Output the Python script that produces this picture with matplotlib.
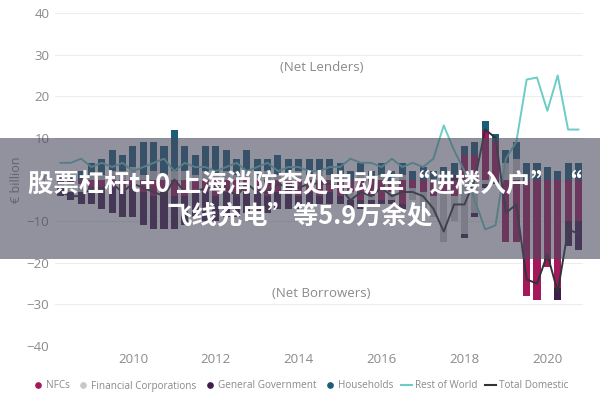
import matplotlib
matplotlib.use("Agg")
import matplotlib.pyplot as plt
import numpy as np
from matplotlib.lines import Line2D
from matplotlib.patches import Rectangle

quarters = ["2008Q2", "2008Q3", "2008Q4",
            "2009Q1", "2009Q2", "2009Q3", "2009Q4",
            "2010Q1", "2010Q2", "2010Q3", "2010Q4",
            "2011Q1", "2011Q2", "2011Q3", "2011Q4",
            "2012Q1", "2012Q2", "2012Q3", "2012Q4",
            "2013Q1", "2013Q2", "2013Q3", "2013Q4",
            "2014Q1", "2014Q2", "2014Q3", "2014Q4",
            "2015Q1", "2015Q2", "2015Q3", "2015Q4",
            "2016Q1", "2016Q2", "2016Q3", "2016Q4",
            "2017Q1", "2017Q2", "2017Q3", "2017Q4",
            "2018Q1", "2018Q2", "2018Q3", "2018Q4",
            "2019Q1", "2019Q2", "2019Q3", "2019Q4",
            "2020Q1", "2020Q2", "2020Q3", "2020Q4"]

nfcs = [-1, -1, -1, -2, -2, -2, -3, -2, -3, -4, -3, -4, -4, -3, -3,
        -4, -3, -4, -3, -3, -4, -3, -3, -4, -3, -4, -3, -4, -3, -5, -4,
        -5, -3, -6, -2, -3, -4, -3, -4, 6, 6, 12, 9,
        -15, -15, -28, -29, -21, -26, -10, -10]
financial = [-1, -2, -2, 1, 1, 2, 2, 3, 1, 2, 1, 2, 2, 1, 2,
             1, 2, 1, 2, 1, 2, 1, 1, 2, 1, 2, 1, 1, -2, 1, -1,
             1, -2, 1, -3, -4, -5, -12, -6, -13, -8, -1, 0,
             4, 5, 0, 0, 0, 0, 0, 0]
government = [-2, -2, -3, -4, -5, -6, -6, -7, -8, -8, -9, -8, -7, -6, -7,
              -6, -6, -5, -5, -5, -4, -4, -4, -3, -3, -2, -3, -2, -2, -2, -1,
              -1, -1, -1, 0, 0, 0, 0, 1, -1, -1, -1, -1,
              0, 0, 0, 0, 0, -3, -6, -7]
households = [1, 1, 2, 3, 4, 5, 4, 5, 8, 7, 7, 10, 6, 5, 6,
              7, 5, 4, 5, 4, 3, 5, 4, 3, 4, 3, 4, 3, 2, 3, 2,
              3, 2, 3, 2, 3, 2, 3, 3, 2, 3, 2, 2,
              3, 4, 4, 4, 3, 2, 4, 4]
rest_of_world = [4, 4, 5, 3, 4, 3, 4, 2, 3, 4, 5, 2, 4, 3, 3,
                 2, 3, 4, 2, 3, 4, 2, 3, 3, 2, 2, 3, 3, 5, 4, 4,
                 3, 5, 3, 4, 3, 5, 13, 7, 2, -5, -12, -11,
                 5, 9, 24, 24.5, 16.5, 25, 12, 12]
total_domestic = [-3, -4, -4, -2, -2, -1, -3, -1, -2, -3, -4, 0, -3, -3, -2,
                  -2, -2, -4, -1, -3, -3, -1, -2, -2, -1, -1, -1, -2, -5, -3, -4,
                  -2, -4, -3, -3, -4, -7, -12.5, -6, -6, 0, 12, 10,
                  -8, -6, -24, -25, -18, -27, -12, -13]

year_ticks = [2010, 2012, 2014, 2016, 2018, 2020]
y_ticks = [-40, -30, -20, -10, 0, 10, 20, 30, 40]

title_line1 = "股票杠杆t+0 上海消防查处电动车“进楼入户”“"
title_line2 = "飞线充电”等5.9万余处"

c_nfc = "#A3195B"
c_fin = "#C8C8C8"
c_gov = "#3F1D4A"
c_hh = "#1C5D78"
c_row = "#6CCDC6"
c_dom = "#2E3438"
grey_txt = "#8A8A8A"
ui_font = ["Open Sans", "DejaVu Sans"]
cjk_font = ["Noto Sans CJK SC", "DejaVu Sans"]

x = np.array([int(q[:4]) + (int(q[-1]) - 1) / 4 for q in quarters])

fig = plt.figure(figsize=(6, 4), dpi=100)
ax = fig.add_axes([55 / 600, 1 - 346 / 400, (583 - 55) / 600, (346 - 13) / 400])

series = [(nfcs, c_nfc), (financial, c_fin), (government, c_gov), (households, c_hh)]
pos_base = np.zeros(len(x))
neg_base = np.zeros(len(x))
w = 0.17
for vals, col in series:
    v = np.array(vals, dtype=float)
    pos = np.where(v > 0, v, 0)
    neg = np.where(v < 0, v, 0)
    ax.bar(x, pos, bottom=pos_base, width=w, color=col, zorder=2, linewidth=0)
    ax.bar(x, neg, bottom=neg_base, width=w, color=col, zorder=2, linewidth=0)
    pos_base += pos
    neg_base += neg

ax.plot(x, rest_of_world, color=c_row, lw=1.4, zorder=3)
ax.plot(x, total_domestic, color=c_dom, lw=1.4, zorder=3)

ax.set_ylim(-40, 40)
ax.set_xlim(2008.12, 2020.86)
ax.set_yticks(y_ticks)
ax.set_xticks(year_ticks)
ax.set_xticklabels([str(y) for y in year_ticks])
ax.grid(axis="y", color="#EDEDED", lw=0.8, zorder=0)
ax.set_axisbelow(True)
for s in ax.spines.values():
    s.set_visible(False)
ax.tick_params(length=0, colors=grey_txt, labelsize=9.5)
ax.tick_params(axis="x", pad=5)
ax.tick_params(axis="y", pad=4)
for lab in ax.get_xticklabels() + ax.get_yticklabels():
    lab.set_family(ui_font)

ax.text(2014.55, 27, "(Net Lenders)", ha="center", va="center", color=grey_txt,
        fontsize=9.5, family=ui_font)
ax.text(2014.55, -27.5, "(Net Borrowers)", ha="center", va="center", color=grey_txt,
        fontsize=9.5, family=ui_font)

fig.text(16 / 600, 1 - 180 / 400, "€ billion", rotation=90, ha="center", va="center",
         color=grey_txt, fontsize=9, family=ui_font)

handles = [
    Line2D([], [], marker="o", ls="", color=c_nfc, markersize=3.8),
    Line2D([], [], marker="o", ls="", color=c_fin, markersize=3.8),
    Line2D([], [], marker="o", ls="", color=c_gov, markersize=3.8),
    Line2D([], [], marker="o", ls="", color=c_hh, markersize=3.8),
    Line2D([], [], color=c_row, lw=1.5),
    Line2D([], [], color=c_dom, lw=1.5),
]
labels = ["NFCs", "Financial Corporations", "General Government", "Households",
          "Rest of World", "Total Domestic"]
leg = fig.legend(handles, labels, loc="center", bbox_to_anchor=(0.5, 1 - 386 / 400),
                 ncol=6, frameon=False, handlelength=1.1,
                 handletextpad=0.25, columnspacing=0.8,
                 prop={"family": ui_font, "size": 7.2})
for t in leg.get_texts():
    t.set_color(grey_txt)

fig.patches.append(Rectangle((0, 1 - 259 / 400), 1, (259 - 138) / 400,
                             transform=fig.transFigure, facecolor="#4A4A5E",
                             alpha=0.6, edgecolor="none", zorder=10))
fig.text(0.508, 1 - 184 / 400, title_line1, ha="center", va="center", color="white",
         fontsize=18.3, fontweight="bold", family=cjk_font, zorder=11)
fig.text(0.5, 1 - 216 / 400, title_line2, ha="center", va="center", color="white",
         fontsize=18.3, fontweight="bold", family=cjk_font, zorder=11)

fig.savefig("out.png", dpi=100)
